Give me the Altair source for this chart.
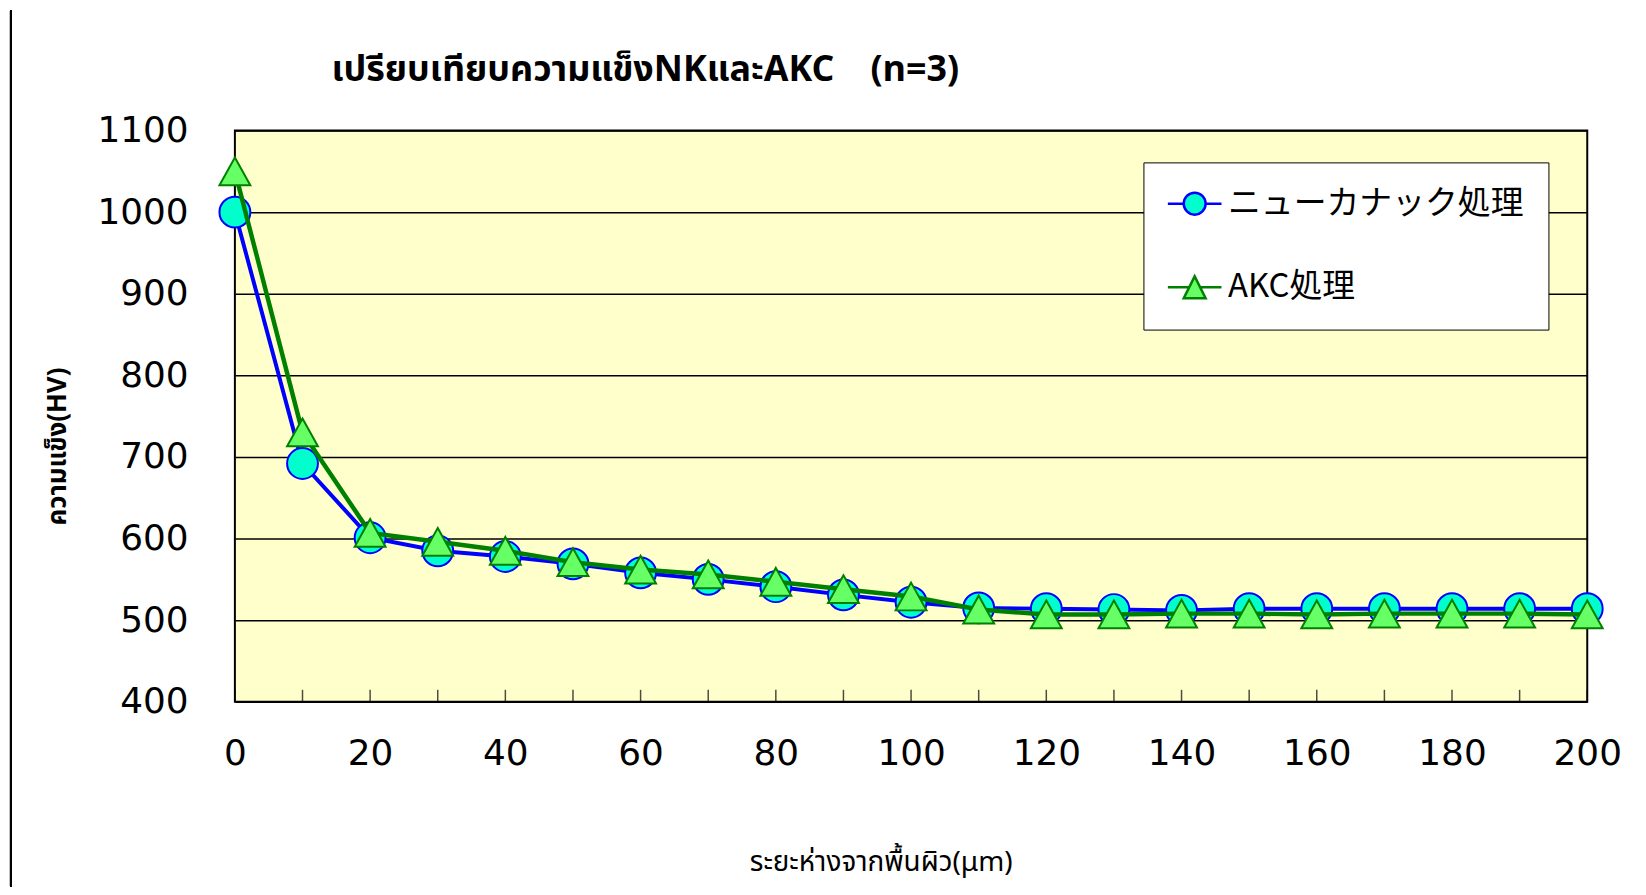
import altair as alt
import pandas as pd

# ---- data ----
NK = "ニューカナック処理"
AKC = "AKC処理"
depth = [0, 10, 20, 30, 40, 50, 60, 70, 80, 90, 100,
         110, 120, 130, 140, 150, 160, 170, 180, 190, 200]
nk_hv = [1000, 692, 601, 585, 578, 569, 558, 550, 541, 531, 522,
         515, 514, 513, 512, 514, 514, 514, 514, 514, 514]
akc_hv = [1050, 730, 607, 596, 585, 571, 562, 556, 547, 538, 529,
          513, 507, 507, 508, 508, 507, 508, 508, 508, 507]
x_labels = [0, 20, 40, 60, 80, 100, 120, 140, 160, 180, 200]
y_labels = [400, 500, 600, 700, 800, 900, 1000, 1100]

# plotted marks use the "_pt" keys, the legend shows the real names
NK_PT = "NK_pt"
AKC_PT = "AKC_pt"
mk_domain = [NK, AKC, NK_PT, AKC_PT]

df = pd.DataFrame({
    "depth": depth + depth,
    "hv": nk_hv + akc_hv,
    "mk": [NK_PT] * len(depth) + [AKC_PT] * len(depth),
})
ticks_df = pd.DataFrame({"depth": depth})

W, H = 1359, 574
THAI = "Noto Sans Thai, Noto Sans, DejaVu Sans, sans-serif"

circle = ("M1,0 C1,0.5523 0.5523,1 0,1 C-0.5523,1 -1,0.5523 -1,0 "
          "C-1,-0.5523 -0.5523,-1 0,-1 C0.5523,-1 1,-0.5523 1,0 Z")
triangle = "M0,-0.9 L1,0.9 L-1,0.9 Z"
leg_circle = ("M-2.45,0 L-1,0 M1,0 L2.45,0 M-1,0 C-1,-0.5523 -0.5523,-1 0,-1 "
              "C0.5523,-1 1,-0.5523 1,0 C1,0.5523 0.5523,1 0,1 C-0.5523,1 -1,0.5523 -1,0 Z")
leg_tri = "M-2.45,0 L-0.5,0 M0.5,0 L2.45,0 M0,-1 L1,1 L-1,1 Z"

x_enc = alt.X(
    "depth:Q",
    scale=alt.Scale(domain=[0, 200], nice=False, zero=False),
    axis=alt.Axis(
        values=x_labels, format="d", labelFontSize=36, labelFont="DejaVu Sans",
        labelColor="black", labelFlush=False, labelOverlap=False,
        labelPadding=35, ticks=False, domain=False, grid=False,
        title="ระยะห่างจากพื้นผิว(μm)", titleFont=THAI, titleFontSize=28,
        titleFontWeight="normal", titleColor="black",
        titleX=649, titleY=162, titleAlign="center", titleBaseline="middle",
    ),
)
y_enc = alt.Y(
    "hv:Q",
    scale=alt.Scale(domain=[400, 1100], nice=False, zero=False),
    axis=alt.Axis(
        values=y_labels, format="d", labelFontSize=36, labelFont="DejaVu Sans",
        labelColor="black", labelFlush=False, labelOverlap=False,
        labelPadding=47, ticks=False, domain=False, grid=True,
        gridColor="black", gridWidth=1.5, gridOpacity=1,
        title="ความแข็ง(HV)", titleFont=THAI, titleFontSize=26,
        titleFontWeight="bold", titleColor="black",
        titleX=-178, titleY=317, titleAngle=270,
        titleAlign="center", titleBaseline="middle",
    ),
)

legend = alt.Legend(
    title=None, orient="none", legendX=913, legendY=32, values=[NK, AKC],
    fillColor="white", strokeColor="black", padding=25,
    symbolSize=484, symbolOffset=10, labelOffset=17, symbolStrokeWidth=2.5,
    symbolOpacity=1, labelLimit=500,
    labelFontSize=33, labelFont="Noto Sans CJK JP", labelColor="black",
    rowPadding=50,
)

stroke_scale = alt.Scale(domain=mk_domain, range=["#0000FF", "#008000", "#0000FF", "#008000"])
fill_scale = alt.Scale(domain=mk_domain, range=["#00FFCC", "#66FF66", "#00FFCC", "#66FF66"])
shape_scale = alt.Scale(domain=mk_domain, range=[leg_circle, leg_tri, circle, triangle])

base = alt.Chart(df)


def line_layer(name, width):
    return base.transform_filter(alt.datum.mk == name).mark_line(
        strokeWidth=width
    ).encode(
        x=x_enc, y=y_enc,
        stroke=alt.Stroke("mk:N", scale=stroke_scale, legend=legend),
    )


def point_layer(name):
    return base.transform_filter(alt.datum.mk == name).mark_point(
        size=961, strokeWidth=2, opacity=1
    ).encode(
        x=x_enc, y=y_enc,
        stroke=alt.Stroke("mk:N", scale=stroke_scale, legend=legend),
        fill=alt.Fill("mk:N", scale=fill_scale, legend=legend),
        shape=alt.Shape("mk:N", scale=shape_scale, legend=legend),
    )


inner_ticks = alt.Chart(ticks_df).mark_tick(
    color="black", thickness=1.5, size=12, orient="vertical"
).encode(x=alt.X("depth:Q"), y=alt.value(H - 6))

frame = alt.Chart(ticks_df).mark_rule(color="black", strokeWidth=2).encode(
    x=alt.value(-225), y=alt.value(-121), y2=alt.value(H + 186)
)

chart = alt.layer(
    inner_ticks,
    line_layer(NK_PT, 4),
    point_layer(NK_PT),
    line_layer(AKC_PT, 4.5),
    point_layer(AKC_PT),
    frame,
).properties(
    width=W, height=H,
    padding={"left": 228, "top": 121, "right": 51, "bottom": 186},
    autosize=alt.AutoSizeParams(type="none"),
    background="white",
    title=alt.TitleParams(
        text="เปรียบเทียบความแข็งNKและAKC　(n=3)",
        font=THAI, fontSize=36, fontWeight="bold", color="black",
        anchor="middle", dx=-267, offset=-108, baseline="alphabetic",
    ),
).configure_view(
    fill="#FFFFCC", stroke="black", strokeWidth=2
)

chart.save("out.html", embed_options={"renderer": "svg", "actions": False})
